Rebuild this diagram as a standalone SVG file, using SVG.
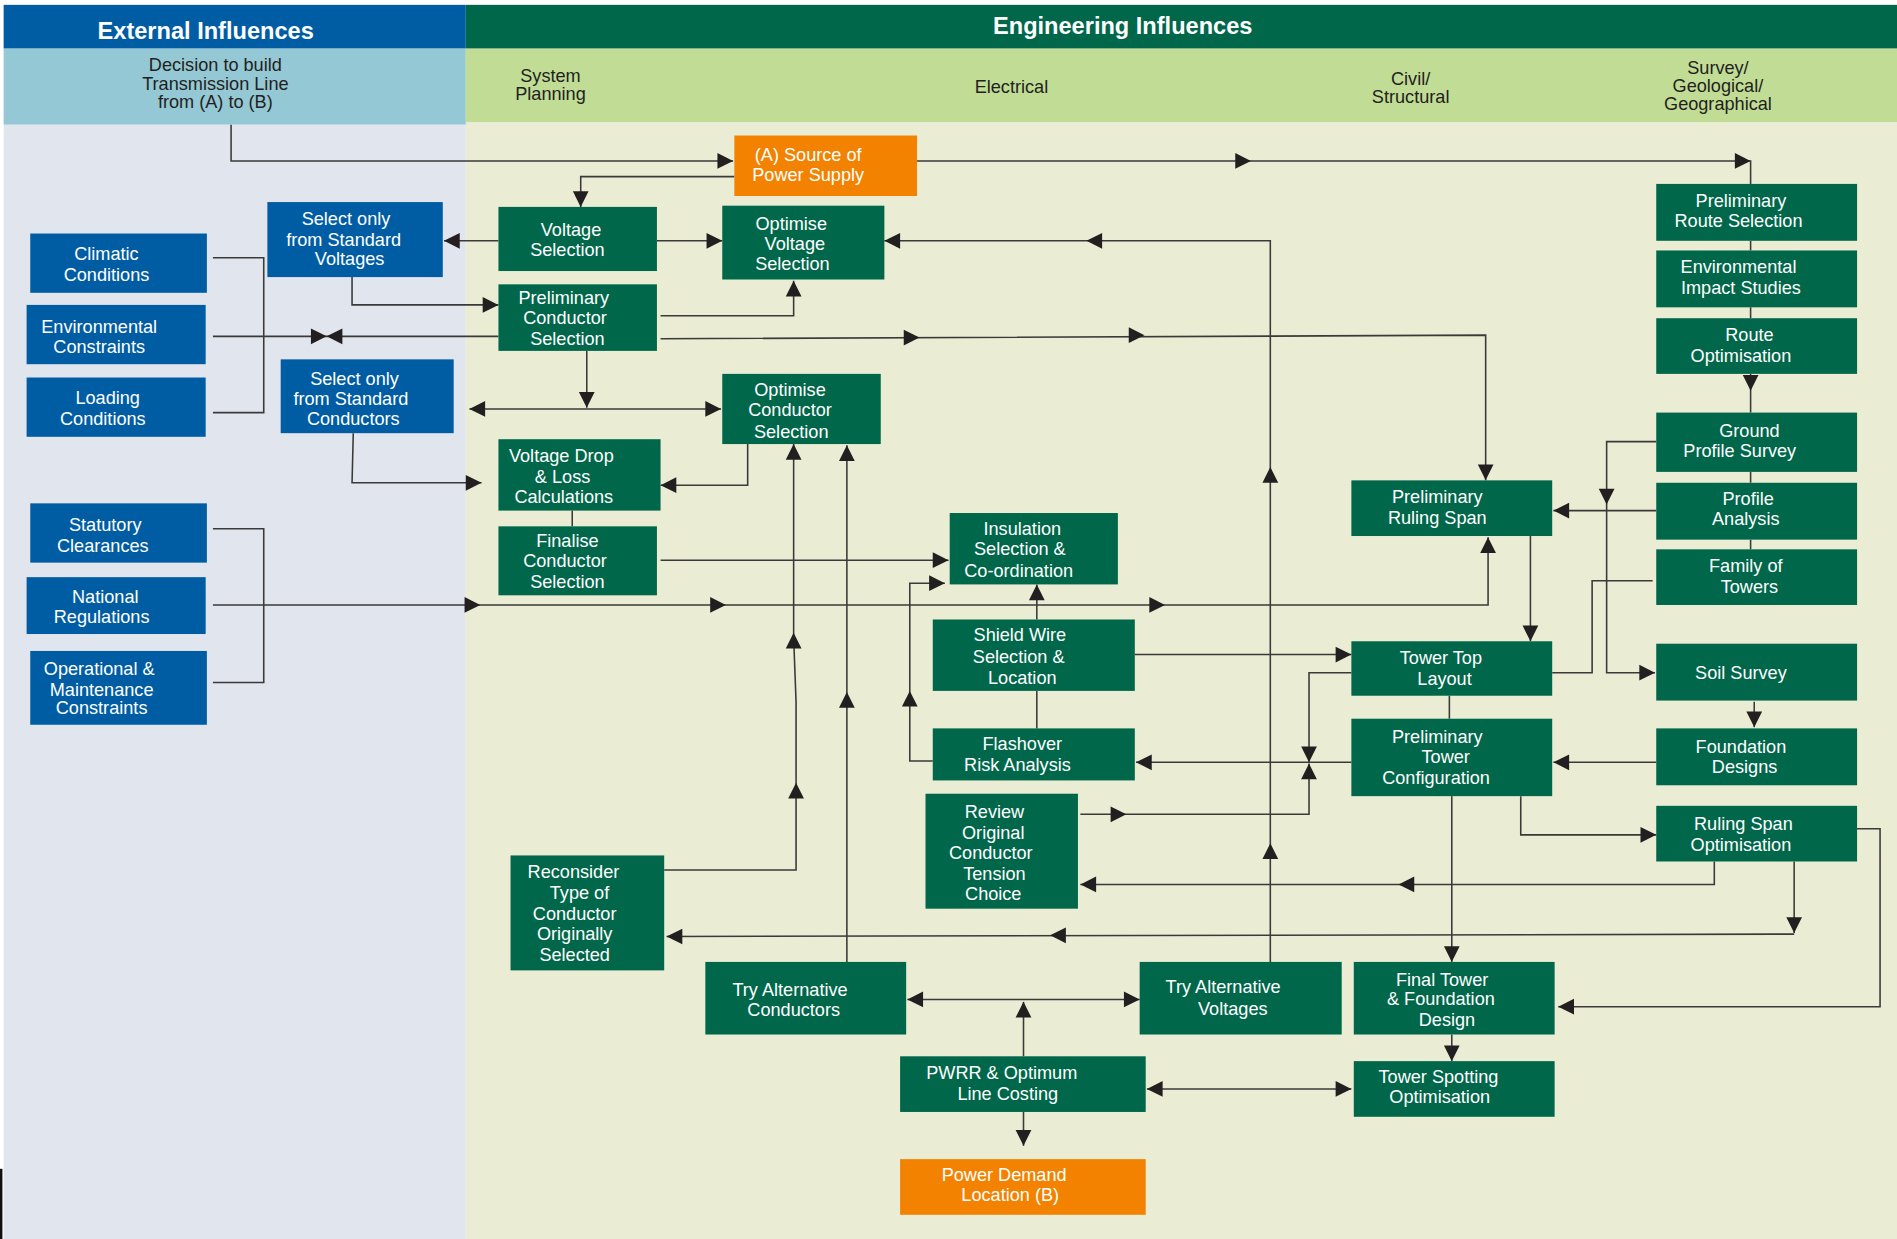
<svg xmlns="http://www.w3.org/2000/svg" xmlns:xlink="http://www.w3.org/1999/xlink" width="1897" height="1239" viewBox="0 0 1897 1239">
<style>
.b{fill:#005DA4}
.g{fill:#00674A}
.o{fill:#F28200}
.t{font-family:"Liberation Sans",Arial,sans-serif;font-size:15px;fill:#fff;text-anchor:middle}
.h{font-family:"Liberation Sans",Arial,sans-serif;font-size:19.5px;font-weight:bold;fill:#fff;text-anchor:middle}
.c{font-family:"Liberation Sans",Arial,sans-serif;font-size:15px;fill:#231F20;text-anchor:middle}
.ln{fill:none;stroke:#3a3a3a;stroke-width:1.3}
.ah{fill:#231F20}
</style>
<defs>
<path id="ar" d="M0,0 L-13,-6.5 L-13,6.5 Z"/>
</defs>
<g transform="scale(1.20982 1.20996)">
<g id="background">
<rect x="0" y="0" width="1568" height="1024" fill="#ffffff"/>
<rect x="3" y="103" width="382" height="921" fill="#E1E6EE"/>
<rect x="385" y="101" width="1183" height="923" fill="#EAEDD3"/>
<rect x="3" y="40" width="382" height="63" fill="#94C8D4"/>
<rect x="385" y="40" width="1183" height="61" fill="#C1DC95"/>
<rect x="3" y="4" width="382" height="36" fill="#005DA4"/>
<rect x="385" y="4" width="1183" height="36" fill="#00674A"/>
<rect x="0" y="966" width="2" height="58" fill="#111"/>
<text class="h" x="170" y="32">External Influences</text>
<text class="h" x="928" y="28">Engineering Influences</text>
<text class="c" x="178" y="59">Decision to build</text>
<text class="c" x="178" y="74">Transmission Line</text>
<text class="c" x="178" y="89">from (A) to (B)</text>
<text class="c" x="455" y="68">System</text>
<text class="c" x="455" y="83">Planning</text>
<text class="c" x="836" y="77">Electrical</text>
<text class="c" x="1166" y="70">Civil/</text>
<text class="c" x="1166" y="85">Structural</text>
<text class="c" x="1420" y="61">Survey/</text>
<text class="c" x="1420" y="76">Geological/</text>
<text class="c" x="1420" y="91">Geographical</text>
</g>
<g id="connectors">
<path class="ln" d="M191,103 V133 H606"/>
<use href="#ar" class="ah" transform="translate(606,133)"/>
<path class="ln" d="M758,133 H1447 V152"/>
<use href="#ar" class="ah" transform="translate(1034,133)"/>
<use href="#ar" class="ah" transform="translate(1447,133)"/>
<path class="ln" d="M607,146 H480 V171"/>
<use href="#ar" class="ah" transform="translate(480,171) rotate(90)"/>
<path class="ln" d="M412,199 H367"/>
<use href="#ar" class="ah" transform="translate(367,199) rotate(180)"/>
<path class="ln" d="M543,199 H597"/>
<use href="#ar" class="ah" transform="translate(597,199)"/>
<path class="ln" d="M1050,795 V199 H731"/>
<use href="#ar" class="ah" transform="translate(731,199) rotate(180)"/>
<use href="#ar" class="ah" transform="translate(898,199) rotate(180)"/>
<use href="#ar" class="ah" transform="translate(1050,386) rotate(-90)"/>
<use href="#ar" class="ah" transform="translate(1050,697) rotate(-90)"/>
<path class="ln" d="M291,229 V252 H412"/>
<use href="#ar" class="ah" transform="translate(412,252)"/>
<path class="ln" d="M546,261 H656 V232"/>
<use href="#ar" class="ah" transform="translate(656,232) rotate(-90)"/>
<path class="ln" d="M176,213 H218 V341 H176"/>
<path class="ln" d="M176,278 H412"/>
<use href="#ar" class="ah" transform="translate(270,278)"/>
<use href="#ar" class="ah" transform="translate(270,278) rotate(180)"/>
<path class="ln" d="M546,280 L1228,277 V397"/>
<use href="#ar" class="ah" transform="translate(760,279)"/>
<use href="#ar" class="ah" transform="translate(946,277)"/>
<use href="#ar" class="ah" transform="translate(1228,397) rotate(90)"/>
<path class="ln" d="M485,290 V337"/>
<use href="#ar" class="ah" transform="translate(485,337) rotate(90)"/>
<path class="ln" d="M388,338 H596"/>
<use href="#ar" class="ah" transform="translate(388,338) rotate(180)"/>
<use href="#ar" class="ah" transform="translate(596,338)"/>
<path class="ln" d="M292,358 L291,399 H398"/>
<use href="#ar" class="ah" transform="translate(398,399)"/>
<path class="ln" d="M618,367 V401 H546"/>
<use href="#ar" class="ah" transform="translate(546,401) rotate(180)"/>
<path class="ln" d="M473,422 V435"/>
<path class="ln" d="M546,463 H784"/>
<use href="#ar" class="ah" transform="translate(784,463)"/>
<path class="ln" d="M176,437 H218 V564 H176"/>
<path class="ln" d="M176,500 H1230 V444"/>
<use href="#ar" class="ah" transform="translate(397,500)"/>
<use href="#ar" class="ah" transform="translate(600,500)"/>
<use href="#ar" class="ah" transform="translate(963,500)"/>
<use href="#ar" class="ah" transform="translate(1230,444) rotate(-90)"/>
<path class="ln" d="M781,482 H752 V629 H771"/>
<use href="#ar" class="ah" transform="translate(781,482)"/>
<use href="#ar" class="ah" transform="translate(752,571) rotate(-90)"/>
<path class="ln" d="M857,512 V483"/>
<use href="#ar" class="ah" transform="translate(857,483) rotate(-90)"/>
<path class="ln" d="M857,571 V602"/>
<path class="ln" d="M938,541 H1117"/>
<use href="#ar" class="ah" transform="translate(1117,541)"/>
<path class="ln" d="M1265,443 V530"/>
<use href="#ar" class="ah" transform="translate(1265,530) rotate(90)"/>
<path class="ln" d="M1369,365 H1328 V556 H1368"/>
<use href="#ar" class="ah" transform="translate(1328,417) rotate(90)"/>
<use href="#ar" class="ah" transform="translate(1368,556)"/>
<path class="ln" d="M1369,422 H1284"/>
<use href="#ar" class="ah" transform="translate(1284,422) rotate(180)"/>
<path class="ln" d="M1366,480 H1316 V556 H1283"/>
<path class="ln" d="M1447,309 V341"/>
<use href="#ar" class="ah" transform="translate(1447,323) rotate(90)"/>
<path class="ln" d="M1447,199 V207 M1447,254 V263 M1447,390 V399 M1447,446 V454"/>
<path class="ln" d="M1450,580 V601"/>
<use href="#ar" class="ah" transform="translate(1450,601) rotate(90)"/>
<path class="ln" d="M1369,630 H1284"/>
<use href="#ar" class="ah" transform="translate(1284,630) rotate(180)"/>
<path class="ln" d="M1198,575 V594"/>
<path class="ln" d="M1117,556 H1082 V630"/>
<use href="#ar" class="ah" transform="translate(1082,630) rotate(90)"/>
<path class="ln" d="M893,673 H1082 V631"/>
<use href="#ar" class="ah" transform="translate(931,673)"/>
<use href="#ar" class="ah" transform="translate(1082,631) rotate(-90)"/>
<path class="ln" d="M1117,630 H939"/>
<use href="#ar" class="ah" transform="translate(939,630) rotate(180)"/>
<path class="ln" d="M1257,658 V690 H1369"/>
<use href="#ar" class="ah" transform="translate(1369,690)"/>
<path class="ln" d="M1417,712 V731 H893"/>
<use href="#ar" class="ah" transform="translate(1156,731) rotate(180)"/>
<use href="#ar" class="ah" transform="translate(893,731) rotate(180)"/>
<path class="ln" d="M1483,712 V771"/>
<use href="#ar" class="ah" transform="translate(1483,771) rotate(90)"/>
<path class="ln" d="M1483,772 L551,774"/>
<use href="#ar" class="ah" transform="translate(868,773) rotate(180)"/>
<use href="#ar" class="ah" transform="translate(551,774) rotate(180)"/>
<path class="ln" d="M1535,685 H1554 V832 H1288"/>
<use href="#ar" class="ah" transform="translate(1288,832) rotate(180)"/>
<path class="ln" d="M1200,658 V795"/>
<use href="#ar" class="ah" transform="translate(1200,795) rotate(90)"/>
<path class="ln" d="M1200,855 V877"/>
<use href="#ar" class="ah" transform="translate(1200,877) rotate(90)"/>
<path class="ln" d="M750,826 H942"/>
<use href="#ar" class="ah" transform="translate(750,826) rotate(180)"/>
<use href="#ar" class="ah" transform="translate(942,826)"/>
<path class="ln" d="M846,873 V828"/>
<use href="#ar" class="ah" transform="translate(846,828) rotate(-90)"/>
<path class="ln" d="M948,900 H1117"/>
<use href="#ar" class="ah" transform="translate(948,900) rotate(180)"/>
<use href="#ar" class="ah" transform="translate(1117,900)"/>
<path class="ln" d="M846,919 V947"/>
<use href="#ar" class="ah" transform="translate(846,947) rotate(90)"/>
<path class="ln" d="M700,795 V368"/>
<use href="#ar" class="ah" transform="translate(700,368) rotate(-90)"/>
<use href="#ar" class="ah" transform="translate(700,572) rotate(-90)"/>
<path class="ln" d="M549,719 H658 V580 L656,527 V367"/>
<use href="#ar" class="ah" transform="translate(656,367) rotate(-90)"/>
<use href="#ar" class="ah" transform="translate(658,647) rotate(-90)"/>
<use href="#ar" class="ah" transform="translate(656,523) rotate(-90)"/>
</g>
<g id="n-climatic"><rect class="b" x="25" y="193" width="146" height="49"/><text class="t" x="88" y="215">Climatic</text><text class="t" x="88" y="232">Conditions</text></g>
<g id="n-envcon"><rect class="b" x="22" y="252" width="148" height="49"/><text class="t" x="82" y="275">Environmental</text><text class="t" x="82" y="292">Constraints</text></g>
<g id="n-loading"><rect class="b" x="22" y="312" width="148" height="49"/><text class="t" x="89" y="334">Loading</text><text class="t" x="85" y="351">Conditions</text></g>
<g id="n-stdvolt"><rect class="b" x="221" y="167" width="145" height="62"/><text class="t" x="286" y="186">Select only</text><text class="t" x="284" y="203">from Standard</text><text class="t" x="289" y="219">Voltages</text></g>
<g id="n-stdcond"><rect class="b" x="232" y="297" width="143" height="61"/><text class="t" x="293" y="318">Select only</text><text class="t" x="290" y="335">from Standard</text><text class="t" x="292" y="351">Conductors</text></g>
<g id="n-statutory"><rect class="b" x="25" y="416" width="146" height="49"/><text class="t" x="87" y="439">Statutory</text><text class="t" x="85" y="456">Clearances</text></g>
<g id="n-national"><rect class="b" x="22" y="477" width="148" height="47"/><text class="t" x="87" y="498">National</text><text class="t" x="84" y="515">Regulations</text></g>
<g id="n-operational"><rect class="b" x="25" y="538" width="146" height="61"/><text class="t" x="82" y="558">Operational &amp;</text><text class="t" x="84" y="575">Maintenance</text><text class="t" x="84" y="590">Constraints</text></g>
<g id="n-source"><rect class="o" x="607" y="112" width="151" height="50"/><text class="t" x="668" y="133">(A) Source of</text><text class="t" x="668" y="150">Power Supply</text></g>
<g id="n-voltsel"><rect class="g" x="412" y="171" width="131" height="53"/><text class="t" x="472" y="195">Voltage</text><text class="t" x="469" y="212">Selection</text></g>
<g id="n-optvolt"><rect class="g" x="597" y="170" width="134" height="61"/><text class="t" x="654" y="190">Optimise</text><text class="t" x="657" y="207">Voltage</text><text class="t" x="655" y="223">Selection</text></g>
<g id="n-prelcond"><rect class="g" x="412" y="235" width="131" height="55"/><text class="t" x="466" y="251">Preliminary</text><text class="t" x="467" y="268">Conductor</text><text class="t" x="469" y="285">Selection</text></g>
<g id="n-optcond"><rect class="g" x="597" y="309" width="131" height="58"/><text class="t" x="653" y="327">Optimise</text><text class="t" x="653" y="344">Conductor</text><text class="t" x="654" y="362">Selection</text></g>
<g id="n-vdrop"><rect class="g" x="412" y="363" width="134" height="59"/><text class="t" x="464" y="382">Voltage Drop</text><text class="t" x="465" y="399">&amp; Loss</text><text class="t" x="466" y="416">Calculations</text></g>
<g id="n-finalise"><rect class="g" x="412" y="435" width="131" height="57"/><text class="t" x="469" y="452">Finalise</text><text class="t" x="467" y="469">Conductor</text><text class="t" x="469" y="486">Selection</text></g>
<g id="n-insul"><rect class="g" x="785" y="424" width="139" height="59"/><text class="t" x="845" y="442">Insulation</text><text class="t" x="843" y="459">Selection &amp;</text><text class="t" x="842" y="477">Co-ordination</text></g>
<g id="n-shield"><rect class="g" x="771" y="512" width="167" height="59"/><text class="t" x="843" y="530">Shield Wire</text><text class="t" x="842" y="548">Selection &amp;</text><text class="t" x="845" y="565">Location</text></g>
<g id="n-flash"><rect class="g" x="771" y="602" width="167" height="43"/><text class="t" x="845" y="620">Flashover</text><text class="t" x="841" y="637">Risk Analysis</text></g>
<g id="n-review"><rect class="g" x="765" y="656" width="126" height="95"/><text class="t" x="822" y="676">Review</text><text class="t" x="821" y="693">Original</text><text class="t" x="819" y="710">Conductor</text><text class="t" x="822" y="727">Tension</text><text class="t" x="821" y="744">Choice</text></g>
<g id="n-reconsider"><rect class="g" x="422" y="707" width="127" height="95"/><text class="t" x="474" y="726">Reconsider</text><text class="t" x="479" y="743">Type of</text><text class="t" x="475" y="760">Conductor</text><text class="t" x="475" y="777">Originally</text><text class="t" x="475" y="794">Selected</text></g>
<g id="n-tryc"><rect class="g" x="583" y="795" width="166" height="60"/><text class="t" x="653" y="823">Try Alternative</text><text class="t" x="656" y="840">Conductors</text></g>
<g id="n-tryv"><rect class="g" x="942" y="795" width="167" height="60"/><text class="t" x="1011" y="821">Try Alternative</text><text class="t" x="1019" y="839">Voltages</text></g>
<g id="n-pwrr"><rect class="g" x="744" y="873" width="203" height="46"/><text class="t" x="828" y="892">PWRR &amp; Optimum</text><text class="t" x="833" y="909">Line Costing</text></g>
<g id="n-demand"><rect class="o" x="744" y="958" width="203" height="46"/><text class="t" x="830" y="976">Power Demand</text><text class="t" x="835" y="993">Location (B)</text></g>
<g id="n-prelroute"><rect class="g" x="1369" y="152" width="166" height="47"/><text class="t" x="1439" y="171">Preliminary</text><text class="t" x="1437" y="188">Route Selection</text></g>
<g id="n-envimpact"><rect class="g" x="1369" y="207" width="166" height="47"/><text class="t" x="1437" y="226">Environmental</text><text class="t" x="1439" y="243">Impact Studies</text></g>
<g id="n-routeopt"><rect class="g" x="1369" y="263" width="166" height="46"/><text class="t" x="1446" y="282">Route</text><text class="t" x="1439" y="299">Optimisation</text></g>
<g id="n-ground"><rect class="g" x="1369" y="341" width="166" height="49"/><text class="t" x="1446" y="361">Ground</text><text class="t" x="1438" y="378">Profile Survey</text></g>
<g id="n-profile"><rect class="g" x="1369" y="399" width="166" height="47"/><text class="t" x="1445" y="417">Profile</text><text class="t" x="1443" y="434">Analysis</text></g>
<g id="n-family"><rect class="g" x="1369" y="454" width="166" height="46"/><text class="t" x="1443" y="473">Family of</text><text class="t" x="1446" y="490">Towers</text></g>
<g id="n-soil"><rect class="g" x="1369" y="532" width="166" height="47"/><text class="t" x="1439" y="561">Soil Survey</text></g>
<g id="n-foundation"><rect class="g" x="1369" y="602" width="166" height="47"/><text class="t" x="1439" y="622">Foundation</text><text class="t" x="1442" y="639">Designs</text></g>
<g id="n-rsopt"><rect class="g" x="1369" y="666" width="166" height="46"/><text class="t" x="1441" y="686">Ruling Span</text><text class="t" x="1439" y="703">Optimisation</text></g>
<g id="n-prelspan"><rect class="g" x="1117" y="397" width="166" height="46"/><text class="t" x="1188" y="416">Preliminary</text><text class="t" x="1188" y="433">Ruling Span</text></g>
<g id="n-towertop"><rect class="g" x="1117" y="530" width="166" height="45"/><text class="t" x="1191" y="549">Tower Top</text><text class="t" x="1194" y="566">Layout</text></g>
<g id="n-preltower"><rect class="g" x="1117" y="594" width="166" height="64"/><text class="t" x="1188" y="614">Preliminary</text><text class="t" x="1195" y="631">Tower</text><text class="t" x="1187" y="648">Configuration</text></g>
<g id="n-final"><rect class="g" x="1119" y="795" width="166" height="60"/><text class="t" x="1192" y="815">Final Tower</text><text class="t" x="1191" y="831">&amp; Foundation</text><text class="t" x="1196" y="848">Design</text></g>
<g id="n-spotting"><rect class="g" x="1119" y="877" width="166" height="46"/><text class="t" x="1189" y="895">Tower Spotting</text><text class="t" x="1190" y="912">Optimisation</text></g>
</g>
</svg>
